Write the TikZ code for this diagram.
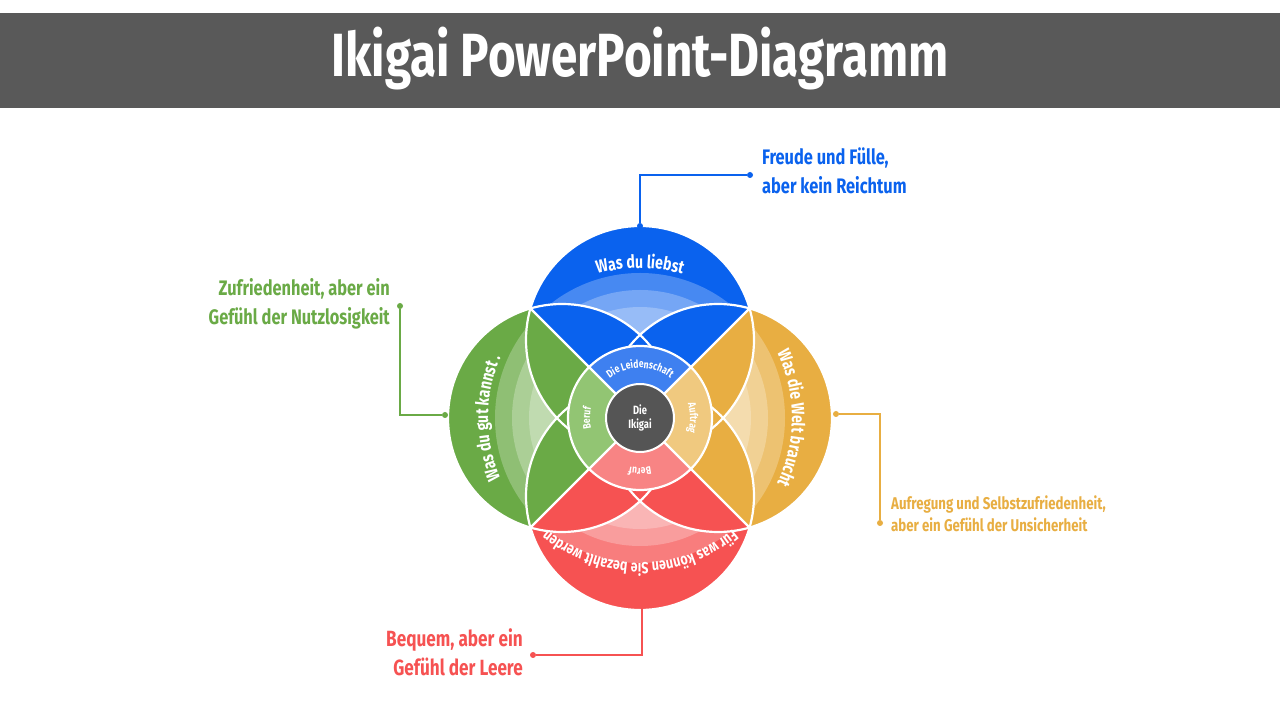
\documentclass[tikz,border=0pt]{standalone}
\usepackage{fontspec}
\setmainfont{Fira Sans}[FakeStretch=0.78]
\usetikzlibrary{decorations.text}
\definecolor{cB}{HTML}{0A62EE}
\definecolor{cG}{HTML}{6AAA46}
\definecolor{cO}{HTML}{E8AE42}
\definecolor{cR}{HTML}{F65252}
\definecolor{cBl}{HTML}{3E80F0}
\definecolor{cGl}{HTML}{92C573}
\definecolor{cOl}{HTML}{F0C97F}
\definecolor{cRl}{HTML}{F88484}
\definecolor{hdr}{HTML}{595959}
\definecolor{dark}{HTML}{555555}
\tikzset{
  outl/.style={draw=white,line width=2.2pt},
  arctext/.style={decorate,decoration={text along path,text align=center,text color=white,text={#1}}},
  call/.style={line width=1.3pt},
  dot/.style={circle,inner sep=0pt,minimum size=6pt},
  ctext/.style={font=\bfseries\fontsize{20}{28}\selectfont,inner sep=0pt}
}
\begin{document}
\begin{tikzpicture}[x=1pt,y=1pt]
\useasboundingbox (0,0) rectangle (1280,720);
\fill[white] (0,0) rectangle (1280,720);
% header
\fill[hdr] (0,612) rectangle (1280,707);
\node[text=white,font=\bfseries\fontsize{61}{64}\selectfont] (title) at (640,661) {Ikigai PowerPoint-Diagramm};
\coordinate (C) at (640,302);
\coordinate (cb) at (640,380);
\coordinate (cg) at (562,302);
\coordinate (co) at (718,302);
\coordinate (cr) at (640,224);
\def\R{114}
% colored wedges
\foreach \cc/\col/\ang in {cb/cB/90,cg/cG/180,co/cO/0,cr/cR/270}{
  \begin{scope}
    \clip (C) -- +(\ang-45:400) -- +(\ang:566) -- +(\ang+45:400) -- cycle;
    \fill[\col] (\cc) circle (\R);
  \end{scope}
}
% pale rings
\foreach \cc/\na/\nb in {cb/cg/co,cg/cb/cr,co/cb/cr,cr/cg/co}{
  \begin{scope}[even odd rule]
    \clip (\cc) circle (\R);
    \clip (0,0) rectangle (1280,720) (\na) circle (\R);
    \clip (0,0) rectangle (1280,720) (\nb) circle (\R);
    \fill[white,opacity=0.25] (C) circle (145);
    \fill[white,opacity=0.25] (C) circle (128);
    \fill[white,opacity=0.25] (C) circle (111);
  \end{scope}
}
\foreach \cc in {cb,cg,co,cr}{\draw[outl] (\cc) circle (\R);}
\foreach \a in {45,135,225,315}{\draw[outl] (C) -- ++(\a:155);}
% central ring
\fill[cBl] (C) -- ++(45:72) arc[start angle=45,end angle=135,radius=72] -- cycle;
\fill[cGl] (C) -- ++(135:72) arc[start angle=135,end angle=225,radius=72] -- cycle;
\fill[cRl] (C) -- ++(225:72) arc[start angle=225,end angle=315,radius=72] -- cycle;
\fill[cOl] (C) -- ++(315:72) arc[start angle=315,end angle=405,radius=72] -- cycle;
\draw[outl] (C) circle (72);
\foreach \a in {45,135,225,315}{\draw[outl] (C) -- ++(\a:72);}
\node[circle,fill=dark,draw=white,line width=2pt,minimum size=68pt,inner sep=0pt,text=white,align=center,font=\bfseries\fontsize{12}{14}\selectfont] (core) at (C) {Die\\Ikigai};
% ring texts
\path[arctext={|\bfseries\fontsize{11}{11}\selectfont|Die Leidenschaft}] (C) ++(140:50) arc[start angle=140,end angle=40,radius=50];
\path[arctext={|\bfseries\fontsize{11}{11}\selectfont|Auftrag}] (C) ++(35:50) arc[start angle=35,end angle=-35,radius=50];
\path[arctext={|\bfseries\fontsize{11}{11}\selectfont|Beruf}] (C) ++(210:50) arc[start angle=210,end angle=150,radius=50];
\path[arctext={|\bfseries\fontsize{11}{11}\selectfont|Beruf}] (C) ++(-55:50) arc[start angle=-55,end angle=-125,radius=50];
% big labels
\path[arctext={|\bfseries\fontsize{18}{18}\selectfont|Was du liebst}] (C) ++(120:150) arc[start angle=120,end angle=60,radius=150];
\path[arctext={|\bfseries\fontsize{18}{18}\selectfont|Was die Welt braucht}] (C) ++(40:152) arc[start angle=40,end angle=-40,radius=152];
\path[arctext={|\bfseries\fontsize{18}{18}\selectfont|Was du gut kannst .}] (C) ++(220:152) arc[start angle=220,end angle=140,radius=152];
\path[arctext={|\bfseries\fontsize{16}{16}\selectfont|Für was können Sie bezahlt werden}] (C) ++(-35:145) arc[start angle=-35,end angle=-145,radius=145];
% callouts
\node[dot,fill=cB] (b1) at (640,494) {};
\coordinate (b2) at (640,545);
\node[dot,fill=cB] (b3) at (750,545) {};
\draw[cB,call] (b1) -- (b2) -- (b3);
\node[ctext,font=\bfseries\fontsize{21}{29}\selectfont,text=cB,anchor=north west,align=left] (bt) at (762,572) {Freude und Fülle,\\aber kein Reichtum};
\node[dot,fill=cG] (g1) at (445,305) {};
\coordinate (g2) at (400,305);
\node[dot,fill=cG] (g3) at (400,414) {};
\draw[cG,call] (g1) -- (g2) -- (g3);
\node[ctext,font=\bfseries\fontsize{21}{29}\selectfont,text=cG,anchor=north east,align=right] (gt) at (390,442) {Zufriedenheit, aber ein\\Gefühl der Nutzlosigkeit};
\node[dot,fill=cO] (o1) at (836,306) {};
\coordinate (o2) at (880,306);
\node[dot,fill=cO] (o3) at (880,197) {};
\draw[cO,call] (o1) -- (o2) -- (o3);
\node[ctext,font=\bfseries\fontsize{17}{22}\selectfont,text=cO,anchor=north west,align=left] (ot) at (891,224) {Aufregung und Selbstzufriedenheit,\\aber ein Gefühl der Unsicherheit};
\node[dot,fill=cR] (r1) at (642,114) {};
\coordinate (r2) at (642,65);
\node[dot,fill=cR] (r3) at (533,65) {};
\draw[cR,call] (r1) -- (r2) -- (r3);
\node[ctext,font=\bfseries\fontsize{22}{29}\selectfont,text=cR,anchor=north east,align=right] (rt) at (523,92) {Bequem, aber ein\\Gefühl der Leere};
\end{tikzpicture}
\end{document}
